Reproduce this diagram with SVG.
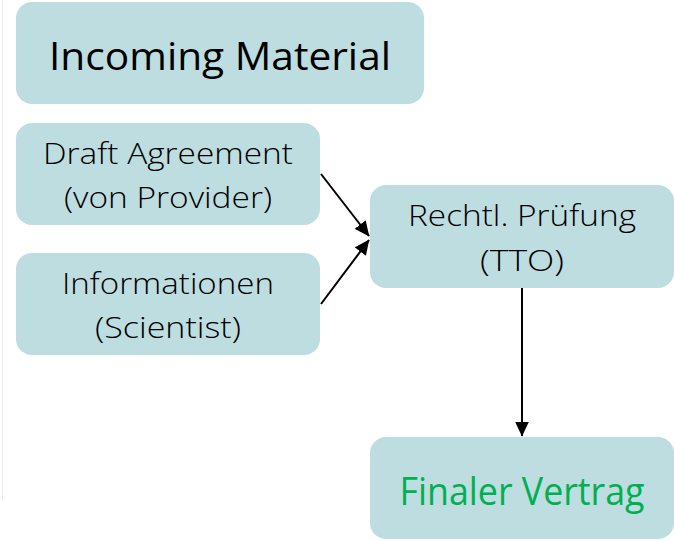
<svg xmlns="http://www.w3.org/2000/svg" width="674" height="541" viewBox="0 0 674 541">
<style>
.box{fill:#BDDDE1;}
.t{font-family:"Open Sans","Noto Sans","Liberation Sans",sans-serif;font-weight:300;text-anchor:middle;fill:#000;}
.r{font-weight:400;}
.m{font-size:29px;}
.conn{stroke:#000;stroke-width:2;fill:none;marker-end:url(#ah);}
</style>
<defs>
<marker id="ah" markerWidth="15" markerHeight="14" refX="14.5" refY="7" orient="auto" markerUnits="userSpaceOnUse" viewBox="0 0 15 14">
<path d="M0,0 L15,7 L0,14 Z" fill="#000"/>
</marker>
</defs>
<rect width="674" height="541" fill="#fff"/>
<line x1="2.5" y1="0" x2="2.5" y2="500" stroke="#ececec" stroke-width="1"/>
<g id="incoming">
<rect class="box" x="16" y="2" width="408" height="102" rx="16"/>
<text class="t r" x="220" y="70" font-size="39" textLength="342" lengthAdjust="spacingAndGlyphs">Incoming Material</text>
</g>
<g id="draft">
<rect class="box" x="16" y="123" width="304" height="102" rx="16"/>
<text class="t m" x="168" y="164" textLength="250" lengthAdjust="spacingAndGlyphs">Draft Agreement</text>
<text class="t m" x="168" y="208" textLength="208" lengthAdjust="spacingAndGlyphs">(von Provider)</text>
</g>
<g id="info">
<rect class="box" x="16" y="253" width="304" height="102" rx="16"/>
<text class="t m" x="168" y="294" textLength="212" lengthAdjust="spacingAndGlyphs">Informationen</text>
<text class="t m" x="168" y="338" textLength="146" lengthAdjust="spacingAndGlyphs">(Scientist)</text>
</g>
<g id="pruefung">
<rect class="box" x="370" y="185" width="304" height="103" rx="16"/>
<text class="t m" x="522" y="226" textLength="228" lengthAdjust="spacingAndGlyphs">Rechtl. Prüfung</text>
<text class="t m" x="522" y="271" textLength="84" lengthAdjust="spacingAndGlyphs">(TTO)</text>
</g>
<g id="final">
<rect class="box" x="370" y="437" width="304" height="102" rx="16"/>
<text class="t r" x="522" y="505" font-size="38" style="fill:#00B050" textLength="245" lengthAdjust="spacingAndGlyphs">Finaler Vertrag</text>
</g>
<g id="connectors">
<line class="conn" x1="321" y1="174" x2="369" y2="236"/>
<line class="conn" x1="321" y1="304" x2="369" y2="240"/>
<line class="conn" x1="522" y1="288" x2="522" y2="436"/>
</g>
</svg>
